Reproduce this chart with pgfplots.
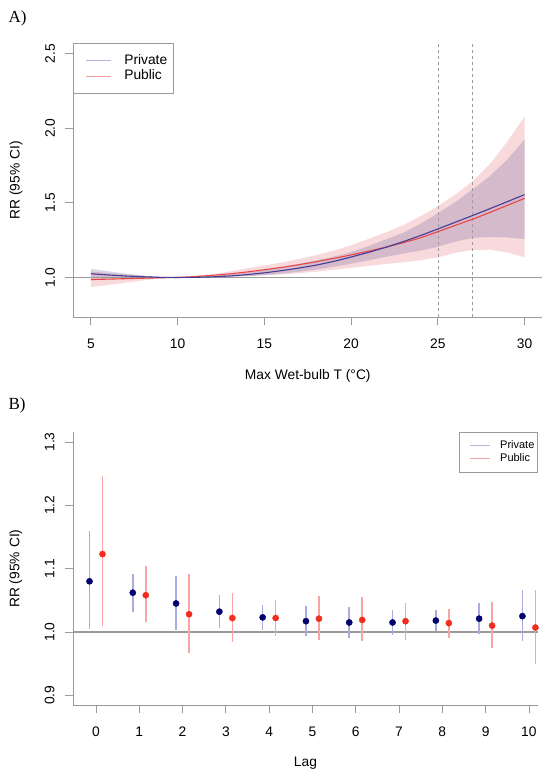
\documentclass[border=0pt]{standalone}
\usepackage{fontspec}
\setmainfont{Liberation Sans}
\newfontfamily\serifA{Liberation Serif}
\usepackage{pgfplots}
\usepackage{pgfplotstable}
\pgfplotsset{compat=1.18}

\definecolor{pinkband}{RGB}{249,218,220}
\definecolor{slate}{RGB}{72,61,139}
\definecolor{privline}{RGB}{70,60,150}
\definecolor{publine}{RGB}{232,70,70}
\definecolor{axgray}{RGB}{155,155,155}
\definecolor{privci}{RGB}{170,170,222}
\definecolor{pubci}{RGB}{250,165,165}
\definecolor{privleg}{RGB}{180,180,222}
\definecolor{publeg}{RGB}{245,160,160}
\definecolor{navypt}{RGB}{0,0,110}
\definecolor{redpt}{RGB}{240,45,30}

\pgfplotstableread{
lag y lo hi
0 1.080 1.005 1.160
1 1.062 1.031 1.092
2 1.045 1.003 1.088
3 1.032 1.006 1.058
4 1.023 1.003 1.042
5 1.017 0.993 1.041
6 1.015 0.991 1.039
7 1.015 0.995 1.034
8 1.018 1.001 1.034
9 1.021 0.997 1.046
10 1.025 0.985 1.067
}\privB

\pgfplotstableread{
lag y lo hi
0 1.123 1.010 1.247
1 1.058 1.015 1.104
2 1.028 0.967 1.092
3 1.022 0.984 1.062
4 1.022 0.994 1.051
5 1.021 0.987 1.057
6 1.019 0.985 1.055
7 1.017 0.988 1.046
8 1.014 0.990 1.037
9 1.010 0.975 1.047
10 1.007 0.949 1.067
}\pubB

\pgfplotsset{
  rstyle/.style={
    scale only axis,
    axis x line*=bottom, axis y line*=left,
    axis line style={axgray, line width=0.8pt, -},
    tick align=outside, major tick length=8pt,
    tick style={axgray, line width=0.8pt},
    tick label style={font=\fontsize{13.8}{16}\selectfont, text=black},
    /pgf/number format/assume math mode=true,
    yticklabel style={rotate=90, anchor=south},
    xticklabel shift=10pt,
    yticklabel shift=7pt,
    label style={font=\fontsize{13.8}{16}\selectfont},
    legend cell align=left,
  }
}

\begin{document}
\begin{tikzpicture}[x=1pt,y=1pt]
\path[use as bounding box] (0,0) rectangle (551,780);

\node[anchor=west, font=\serifA\fontsize{17}{20}\selectfont] at (5pt,761.5pt) {A)};
\node[anchor=west, font=\serifA\fontsize{17}{20}\selectfont] at (5pt,375pt) {B)};

\begin{axis}[rstyle,
  at={(73.5pt,462.5pt)}, anchor=south west,
  width=468.5pt, height=274.1pt,
  xmin=4, xmax=31, ymin=0.732, ymax=2.568,
  xtick={5,10,15,20,25,30},
  ytick={1.0,1.5,2.0,2.5},
  yticklabel style={/pgf/number format/.cd, fixed, fixed zerofill, precision=1},
  xlabel={Max Wet-bulb T (°C)},
  ylabel={RR (95\% CI)},
  xlabel style={at={(axis description cs:0.5,-0.2123)}, anchor=center},
  ylabel style={at={(axis description cs:-0.1226,0.5)}, anchor=center},
  legend style={at={(0,1)}, anchor=north west, draw=axgray, line width=0.8pt,
    font=\fontsize{13.8}{16}\selectfont,
    nodes={inner sep=0pt, text height=10pt, text depth=3pt},
    inner xsep=6.6pt, inner ysep=10.3pt, row sep=2.7pt, column sep=12.7pt},
  legend image code/.code={\path (0pt,0pt); \draw[#1] (5.1pt,0pt) -- (30.1pt,0pt);},
]
% public CI band
\addplot[fill=pinkband, draw=none, forget plot] coordinates {
(5,1.040) (6,1.030) (7,1.021) (8,1.012) (9,1.004) (10,1.000) (11,1.010) (12,1.022)
(13,1.040) (14,1.062) (15,1.080) (16,1.100) (17,1.124) (18,1.150) (19,1.180) (20,1.216)
(21,1.258) (22,1.302) (23,1.350) (24,1.410) (25,1.478) (26,1.555) (27,1.645) (28,1.760)
(29,1.910) (30,2.080)
(30,1.135) (29,1.168) (28,1.186) (27,1.185) (26,1.165) (25,1.135) (24,1.115) (23,1.102)
(22,1.090) (21,1.078) (20,1.065) (19,1.052) (18,1.039) (17,1.029) (16,1.021) (15,1.014)
(14,1.009) (13,1.006) (12,1.003) (11,1.001) (10,1.000) (9,0.993) (8,0.980) (7,0.966)
(6,0.950) (5,0.935)
} -- cycle;
% private CI band
\addplot[fill=slate, fill opacity=0.2, draw=none, forget plot] coordinates {
(5,1.058) (6,1.042) (7,1.026) (8,1.013) (9,1.004) (10,1.000) (11,1.003) (12,1.010)
(13,1.020) (14,1.033) (15,1.049) (16,1.068) (17,1.090) (18,1.114) (19,1.140) (20,1.170)
(21,1.210) (22,1.255) (23,1.300) (24,1.360) (25,1.430) (26,1.505) (27,1.590) (28,1.680)
(29,1.790) (30,1.925)
(30,1.258) (29,1.268) (28,1.272) (27,1.265) (26,1.240) (25,1.205) (24,1.180) (23,1.160)
(22,1.138) (21,1.115) (20,1.092) (19,1.072) (18,1.053) (17,1.038) (16,1.026) (15,1.016)
(14,1.009) (13,1.004) (12,1.001) (11,0.999) (10,1.000) (9,0.999) (8,0.997) (7,0.995)
(6,0.993) (5,0.993)
} -- cycle;
% reference lines
\addplot[axgray, line width=0.8pt, forget plot] coordinates {(4,1) (31,1)};
\addplot[axgray, dashed, line width=0.6pt, forget plot] coordinates {(25,0.732) (25,2.568)};
\addplot[axgray, dashed, line width=0.6pt, forget plot] coordinates {(27,0.732) (27,2.568)};
% central curves
\addplot[publine, line width=1.1pt, forget plot] coordinates {
(5,0.986) (6,0.989) (7,0.992) (8,0.995) (9,0.998) (10,1.000) (11,1.006) (12,1.014)
(13,1.024) (14,1.037) (15,1.052) (16,1.068) (17,1.086) (18,1.106) (19,1.128) (20,1.151)
(21,1.176) (22,1.203) (23,1.233) (24,1.266) (25,1.307) (26,1.349) (27,1.390) (28,1.436)
(29,1.483) (30,1.530)};
\addplot[privline, line width=1.1pt, forget plot] coordinates {
(5,1.025) (6,1.017) (7,1.010) (8,1.005) (9,1.001) (10,1.000) (11,1.001) (12,1.004)
(13,1.010) (14,1.019) (15,1.031) (16,1.046) (17,1.063) (18,1.083) (19,1.108) (20,1.137)
(21,1.168) (22,1.202) (23,1.240) (24,1.281) (25,1.325) (26,1.370) (27,1.415) (28,1.461)
(29,1.508) (30,1.555)};
\addlegendimage{privleg, line width=1pt}
\addlegendentry{Private}
\addlegendimage{publeg, line width=1pt}
\addlegendentry{Public}
\end{axis}

\begin{axis}[rstyle,
  at={(73pt,74.6pt)}, anchor=south west,
  width=465pt, height=273.5pt,
  xmin=-0.531, xmax=10.21, ymin=0.884, ymax=1.316,
  xtick={0,1,...,10},
  ytick={0.9,1.0,1.1,1.2,1.3},
  yticklabel style={/pgf/number format/.cd, fixed, fixed zerofill, precision=1},
  xlabel={Lag},
  ylabel={RR (95\% CI)},
  xlabel style={at={(axis description cs:0.5,-0.2117)}, anchor=center},
  ylabel style={at={(axis description cs:-0.1228,0.5)}, anchor=center},
  legend style={at={(1,1)}, anchor=north east, draw=axgray, line width=0.8pt,
    font=\fontsize{11}{13}\selectfont,
    nodes={inner sep=0pt, text height=8pt, text depth=2.5pt},
    inner xsep=3.2pt, inner ysep=8pt, row sep=2.8pt, column sep=10pt},
  legend image code/.code={\path (0pt,0pt); \draw[#1] (6.8pt,0pt) -- (26.8pt,0pt);},
]
\addplot[axgray, line width=1.2pt, forget plot] coordinates {(-0.531,1) (10.21,1)};
\addplot[only marks, mark=*, mark size=3.1pt, color=navypt, forget plot,
  error bars/.cd, y dir=both, y explicit, error mark=none,
  error bar style={privci, line width=1.6pt}]
  table[x expr=\thisrow{lag}-0.15, y=y,
        y error plus expr=\thisrow{hi}-\thisrow{y},
        y error minus expr=\thisrow{y}-\thisrow{lo}] {\privB};
\addplot[only marks, mark=*, mark size=3.1pt, color=redpt, forget plot,
  error bars/.cd, y dir=both, y explicit, error mark=none,
  error bar style={pubci, line width=1.6pt}]
  table[x expr=\thisrow{lag}+0.15, y=y,
        y error plus expr=\thisrow{hi}-\thisrow{y},
        y error minus expr=\thisrow{y}-\thisrow{lo}] {\pubB};
\addlegendimage{privleg, line width=1pt}
\addlegendentry{Private}
\addlegendimage{publeg, line width=1pt}
\addlegendentry{Public}
\end{axis}
\end{tikzpicture}
\end{document}
